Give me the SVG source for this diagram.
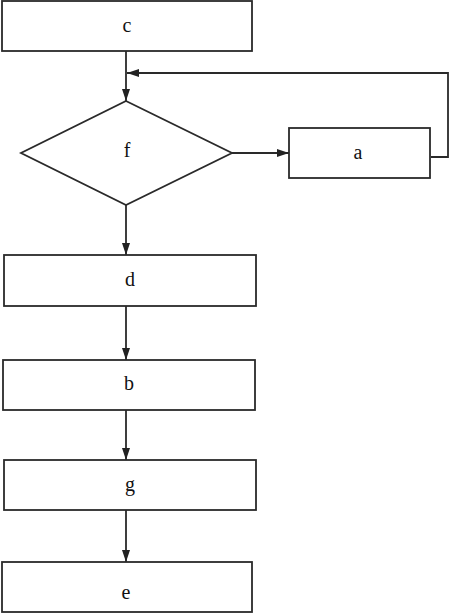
<svg xmlns="http://www.w3.org/2000/svg" width="450" height="613" viewBox="0 0 450 613">
<style>
.box{fill:#fff;stroke:#2a2a2a;stroke-width:1.8}
.lbl{font-family:"Liberation Serif",serif;font-size:20px;fill:#111;text-anchor:middle;dominant-baseline:central}
.ln{fill:none;stroke:#2a2a2a;stroke-width:1.8}
</style>
<defs>
<marker id="ah" viewBox="0 0 12 8" refX="12" refY="4" markerWidth="12" markerHeight="8" markerUnits="userSpaceOnUse" orient="auto">
<path d="M0,0 L12,4 L0,8 Z" fill="#222"/>
</marker>
</defs>
<rect width="450" height="613" fill="#fff"/>
<g id="connectors">
<path class="ln" d="M126,51 V101" marker-end="url(#ah)"/>
<path class="ln" d="M431,157 H448 V73 H127" marker-end="url(#ah)"/>
<path class="ln" d="M232,153 H289" marker-end="url(#ah)"/>
<path class="ln" d="M126,205 V255" marker-end="url(#ah)"/>
<path class="ln" d="M126,306 V360" marker-end="url(#ah)"/>
<path class="ln" d="M126,410 V460" marker-end="url(#ah)"/>
<path class="ln" d="M126,510 V562" marker-end="url(#ah)"/>
</g>
<g id="c"><rect class="box" x="2" y="1" width="250" height="50"/><text class="lbl" x="127" y="25">c</text></g>
<g id="f"><polygon class="box" points="126,101 232,153 126,205 21,153"/><text class="lbl" x="127" y="150">f</text></g>
<g id="a"><rect class="box" x="289" y="128" width="141" height="50"/><text class="lbl" x="358" y="152">a</text></g>
<g id="d"><rect class="box" x="4" y="255" width="252" height="51"/><text class="lbl" x="130" y="279">d</text></g>
<g id="b"><rect class="box" x="3" y="360" width="252" height="50"/><text class="lbl" x="129" y="383">b</text></g>
<g id="g"><rect class="box" x="4" y="460" width="252" height="50"/><text class="lbl" x="130" y="484">g</text></g>
<g id="e"><rect class="box" x="2" y="562" width="250" height="50"/><text class="lbl" x="126" y="592">e</text></g>
</svg>
